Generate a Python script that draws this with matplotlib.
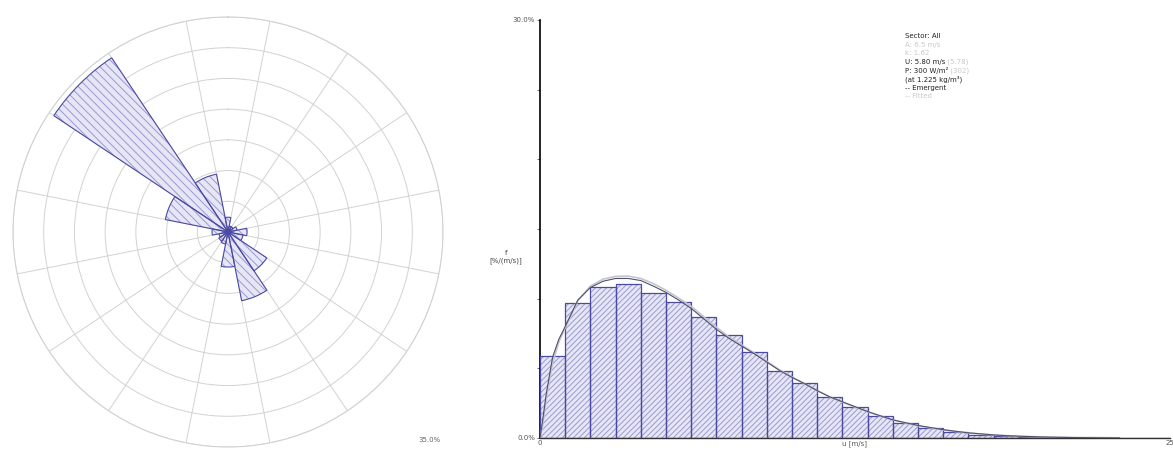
import numpy as np
import matplotlib
matplotlib.use('Agg')
import matplotlib.pyplot as plt

# wind rose, 16 sectors starting at N, clockwise, frequency in %
sectors = ['N', 'NNE', 'NE', 'ENE', 'E', 'ESE', 'SE', 'SSE',
           'S', 'SSW', 'SW', 'WSW', 'W', 'WNW', 'NW', 'NNW']
sector_freq = [2.4, 1.0, 1.0, 1.5, 3.1, 2.5, 7.6, 11.4,
               5.7, 2.0, 1.8, 1.5, 2.6, 10.4, 34.1, 9.6]
rose_max = 35.0

# speed histogram, 1 m/s bins, %/(m/s)
speed_bins = list(range(25))
speed_freq = [5.9, 9.67, 10.86, 11.03, 10.39, 9.79, 8.66, 7.39, 6.2, 4.83,
              3.92, 2.92, 2.25, 1.55, 1.07, 0.73, 0.45, 0.22, 0.15, 0.08,
              0.04, 0.02, 0.01, 0.0, 0.0]

# curves
curve_u = [0, 0.1, 0.25, 0.5, 0.75, 1.0, 1.5, 2.0, 2.5, 3.0, 3.5, 4.0, 4.5,
           5.0, 5.5, 6.0, 6.5, 7.0, 7.5, 8.0, 8.5, 9.0, 9.5, 10, 10.5, 11,
           11.5, 12, 12.5, 13, 13.5, 14, 14.5, 15, 15.5, 16, 16.5, 17, 17.5,
           18, 18.5, 19, 19.5, 20, 20.5, 21, 22, 23]
emergent = [0, 1.2, 3.2, 5.8, 7.1, 8.0, 9.9, 10.8, 11.25, 11.45, 11.45, 11.3,
            10.9, 10.45, 9.9, 9.3, 8.55, 7.8, 7.15, 6.6, 6.05, 5.45, 4.85,
            4.35, 3.9, 3.4, 2.95, 2.6, 2.25, 1.9, 1.6, 1.3, 1.1, 0.9, 0.75,
            0.6, 0.48, 0.37, 0.3, 0.22, 0.17, 0.13, 0.1, 0.07, 0.05, 0.035,
            0.02, 0.01]
fitted = [0, 0.9, 2.8, 5.4, 6.9, 7.9, 9.85, 10.9, 11.4, 11.6, 11.62, 11.45,
          11.08, 10.6, 10.05, 9.45, 8.7, 7.95, 7.25, 6.68, 6.1, 5.5, 4.9,
          4.38, 3.9, 3.4, 2.95, 2.57, 2.22, 1.87, 1.57, 1.3, 1.08, 0.88, 0.72,
          0.58, 0.46, 0.36, 0.28, 0.22, 0.17, 0.13, 0.1, 0.08, 0.06, 0.045,
          0.03, 0.015]

fill_c = '#e6e6f6'
hatch_c = '#9a9ad0'
edge_c = '#4a4aa2'
grid_c = '#d2d2d2'

plt.rcParams['hatch.linewidth'] = 0.7
plt.rcParams['font.family'] = 'DejaVu Sans'

fig = plt.figure(figsize=(11.73, 4.51), dpi=100)

# ---- wind rose
axr = fig.add_axes([13/1173, 4/451, 430/1173, 430/451], projection='polar')
axr.set_theta_zero_location('N')
axr.set_theta_direction(-1)
theta = np.deg2rad(np.arange(len(sectors)) * 22.5)
w = np.deg2rad(22.5)
axr.bar(theta, sector_freq, width=w, color=fill_c, edgecolor=hatch_c,
        hatch='\\\\\\\\', linewidth=0, zorder=3)
axr.bar(theta, sector_freq, width=w, color='none', edgecolor=edge_c,
        linewidth=0.8, zorder=4)
axr.set_ylim(0, rose_max)
axr.set_rgrids(np.arange(5, rose_max + 0.1, 5), labels=[])
axr.set_thetagrids(11.25 + np.arange(16) * 22.5, labels=[])
axr.grid(True, color=grid_c, linewidth=0.7)
axr.spines['polar'].set_color(grid_c)
axr.spines['polar'].set_linewidth(0.8)
axr.tick_params(length=0)
axr.set_axisbelow(True)
fig.text(430/1173, 1 - 440/451, '35.0%', fontsize=5, color='#666666',
         ha='center', va='center')

# ---- histogram
axh = fig.add_axes([540/1173, 13/451, 630/1173, 418/451])
axh.bar(speed_bins, speed_freq, width=1.0, align='edge', color=fill_c,
        edgecolor=hatch_c, hatch='//////', linewidth=0, zorder=2)
axh.bar(speed_bins, speed_freq, width=1.0, align='edge', color='none',
        edgecolor=edge_c, linewidth=0.9, zorder=3)
axh.plot(curve_u, fitted, color='#c4c4d4', linewidth=1.2, zorder=4)
axh.plot(curve_u, emergent, color='#50506a', linewidth=0.8, zorder=5)
axh.set_xlim(0, 25)
axh.set_ylim(0, 30)
for s in ['top', 'right']:
    axh.spines[s].set_visible(False)
axh.spines['left'].set_linewidth(1.2)
axh.spines['bottom'].set_linewidth(1.0)
axh.spines['bottom'].set_color('#333333')
axh.set_yticks(np.arange(0, 31, 5))
axh.set_yticklabels(['0.0%', '', '', '', '', '', '30.0%'])
axh.set_xticks([0, 12.5, 25])
axh.set_xticklabels(['0', 'u [m/s]', '25'])
axh.tick_params(axis='both', labelsize=5, colors='#555555', length=2,
                width=0.6, pad=1.5)
axh.tick_params(axis='x', length=0)
axh.text(-0.7, 13.0, 'f\n[%/(m/s)]', fontsize=5, color='#444444',
         ha='right', va='center', multialignment='center')

# info box
lines = [
    ('Sector: All', '#222222', ''),
    ('A: 6.5 m/s', '#c8c8c8', ''),
    ('k: 1.62', '#c8c8c8', ''),
    ('U: 5.80 m/s', '#222222', ' (5.78)'),
    ('P: 300 W/m\u00b2', '#222222', ' (302)'),
    ('(at 1.225 kg/m\u00b3)', '#222222', ''),
    ('-- Emergent', '#222222', ''),
    ('-- Fitted', '#c8c8c8', ''),
]
y0 = 36
for i, (txt, col, extra) in enumerate(lines):
    yy = 1 - (y0 + i * 8.6) / 451
    t = fig.text(905/1173, yy, txt, fontsize=5, color=col, va='center')
    if extra:
        fig.canvas.draw()
        bb = t.get_window_extent()
        fig.text(bb.x1 / 1173, yy, extra, fontsize=5, color='#c8c8c8',
                 va='center')

fig.savefig('out.png', dpi=100)
